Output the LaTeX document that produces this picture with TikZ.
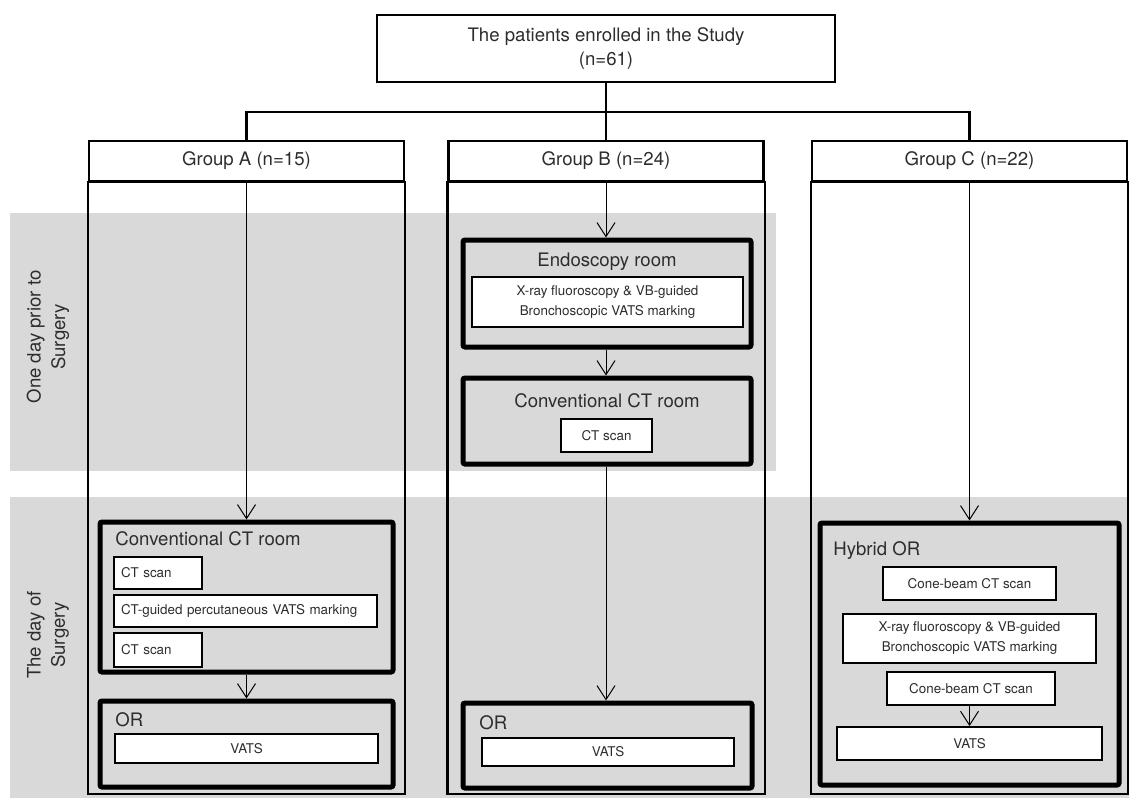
\documentclass[tikz,border=0pt]{standalone}
\usepackage{fontspec}
\setmainfont{TeX Gyre Heros}
\usetikzlibrary{arrows.meta,positioning}
\definecolor{bandgray}{RGB}{217,217,217}
\definecolor{txtgray}{RGB}{45,45,45}
\newcommand{\bigfont}{\fontsize{9.3}{12.2}\selectfont}
\newcommand{\smallfont}{\fontsize{6.7}{10}\selectfont}

\begin{document}
\begin{tikzpicture}[x=1pt,y=-1pt,
    every node/.style={text=txtgray,inner sep=0pt},
    colframe/.style={draw=black,line width=1.1pt,minimum width=157.5pt,minimum height=20pt,font=\bigfont},
    room/.style={draw=black,line width=2.5pt,rounded corners=1pt,fill=bandgray},
    roomtitle/.style={font=\bigfont},
    task/.style={draw=black,line width=0.9pt,fill=white,font=\smallfont,align=center},
    tasklist/.style={task,align=left,inner xsep=3.5pt},
    flow/.style={-{Straight Barb[length=7pt,width=9pt]},line width=0.5pt}]
    \useasboundingbox (0,0) rectangle (564.5,399);

    % day bands
    \fill[bandgray] (5,106.5) rectangle (388,235.5);
    \fill[bandgray] (5,248.5) rectangle (564.5,399);
    \node[roomtitle,rotate=90,align=center] (dayBefore) at (24,168.5) {One day prior to\\Surgery};
    \node[roomtitle,rotate=90,align=center] (dayOf) at (24,317.5) {The day of\\Surgery};

    % study and groups
    \node[draw=black,line width=1.1pt,minimum width=229pt,minimum height=33.5pt,
          align=center,font=\bigfont] (study) at (303,24.25)
          {The patients enrolled in the Study\\(n=61)};
    \node[colframe] (hdA) at (123.25,80.5) {Group A (n=15)};
    \node[colframe] (hdB) at (303,80.5) {Group B (n=24)};
    \node[colframe] (hdC) at (484.75,80.5) {Group C (n=22)};
    \foreach \g in {hdA,hdB,hdC}
             {
               \draw[line width=1.1pt] (\g.south west) rectangle (\g.south east |- 0,397);
             }
    \coordinate (split) at (303,56);
    \draw[line width=1.1pt] (study.south) -- (split);
    \draw[line width=1.1pt] (hdA.north) |- (split) -| (hdC.north);
    \draw[line width=1.1pt] (split) -- (hdB.north);

    % group A
    \node[room,minimum width=146.5pt,minimum height=75pt] (ctA) at (123.25,298.5) {};
    \node[roomtitle,anchor=base west] (ctAname) at (57.5,272.5) {Conventional CT room};
    \node[tasklist,text width=37pt,minimum height=16pt] (scanA1) at (79,286.5) {CT scan};
    \node[tasklist,text width=124.5pt,minimum height=16pt] (markA) at (122.75,305.5) {CT-guided percutaneous VATS marking};
    \node[tasklist,text width=37pt,minimum height=17pt] (scanA2) at (79,325) {CT scan};
    \node[room,minimum width=146.5pt,minimum height=43pt] (orA) at (123.25,372) {};
    \node[roomtitle,anchor=base west] (orAname) at (57.5,363) {OR};
    \node[task,minimum width=131.5pt,minimum height=14.5pt] (vatsA) at (123.25,374.25) {VATS};

    % group B
    \node[room,minimum width=144pt,minimum height=53.5pt] (endoB) at (303.5,146.75) {};
    \node[roomtitle,anchor=base] (endoBname) at (303.5,133) {Endoscopy room};
    \node[task,minimum width=135.5pt,minimum height=25pt] (markB) at (303.75,151)
          {X-ray fluoroscopy \& VB-guided\\Bronchoscopic VATS marking};
    \node[room,minimum width=144pt,minimum height=43pt] (ctB) at (303.5,210.5) {};
    \node[roomtitle,anchor=base] (ctBname) at (303.5,203.5) {Conventional CT room};
    \node[task,minimum width=45.5pt,minimum height=16.5pt] (scanB) at (303.25,217.75) {CT scan};
    \node[room,minimum width=144.5pt,minimum height=42.5pt] (orB) at (303.75,372.75) {};
    \node[roomtitle,anchor=base west] (orBname) at (239.5,364.5) {OR};
    \node[task,minimum width=126pt,minimum height=14pt] (vatsB) at (304,376) {VATS};

    % group C
    \node[room,minimum width=149.5pt,minimum height=131pt] (hybC) at (484.75,327) {};
    \node[roomtitle,anchor=base west] (hybCname) at (416.5,277.5) {Hybrid OR};
    \node[task,minimum width=86.5pt,minimum height=16.5pt] (coneC1) at (484.75,291.75) {Cone-beam CT scan};
    \node[task,minimum width=126.5pt,minimum height=24.5pt] (markC) at (484.75,319.25)
          {X-ray fluoroscopy \& VB-guided\\Bronchoscopic VATS marking};
    \node[task,minimum width=84pt,minimum height=16.5pt] (coneC2) at (485.5,344.25) {Cone-beam CT scan};
    \node[task,minimum width=132.5pt,minimum height=16.5pt] (vatsC) at (484.75,371.75) {VATS};

    % flow
    \draw[flow] (hdA.south) -- (hdA.south |- ctA.north);
    \draw[flow] (ctA.south) -- (orA.north);
    \draw[flow] (hdB.south) -- (hdB.south |- endoB.north);
    \draw[flow] (hdB.south |- endoB.south) -- (hdB.south |- ctB.north);
    \draw[flow] (hdB.south |- ctB.south) -- (hdB.south |- orB.north);
    \draw[flow] (hdC.south) -- (hdC.south |- hybC.north);
    \draw[flow] (hdC.south |- coneC2.south) -- (hdC.south |- vatsC.north);
\end{tikzpicture}
\end{document}
